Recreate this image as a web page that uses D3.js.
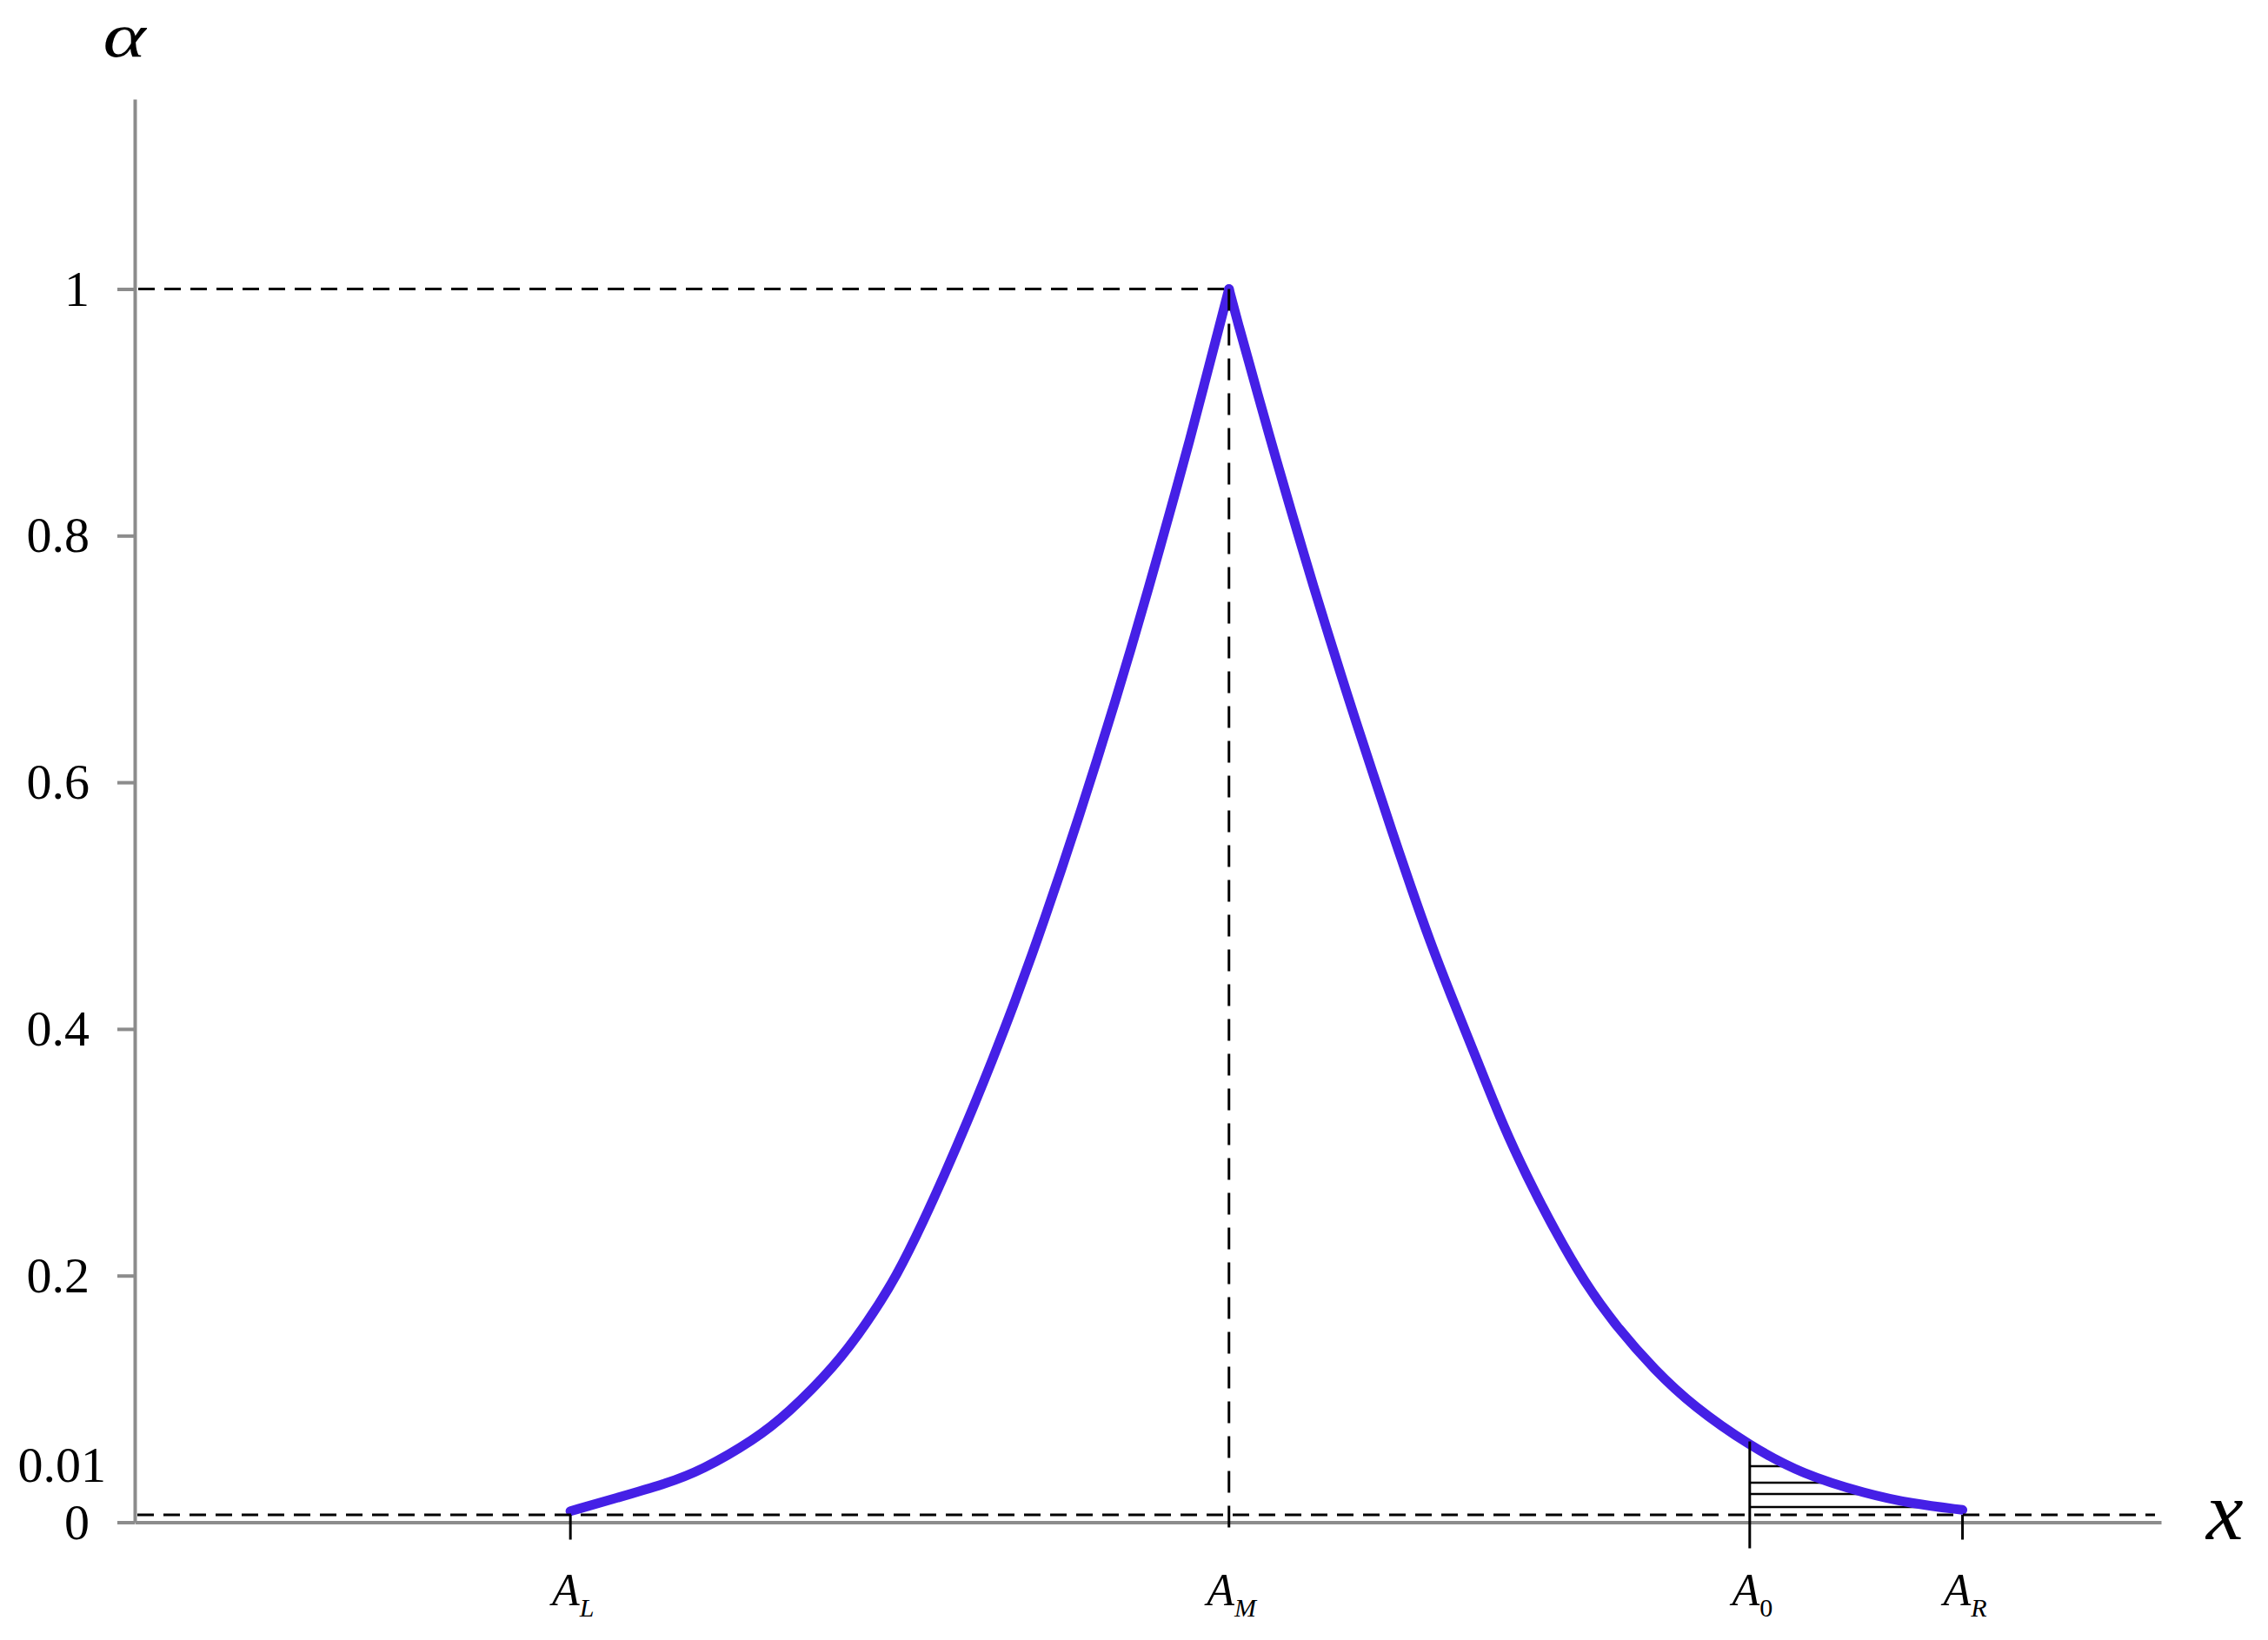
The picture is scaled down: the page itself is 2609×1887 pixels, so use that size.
<!DOCTYPE html>
<html>
<head>
<meta charset="utf-8">
<script src="https://cdn.jsdelivr.net/npm/d3@7"></script>
<style>
  body { margin: 0; background: #fff; }
  svg { display: block; }
</style>
</head>
<body>
<script>
// membership curve
var curveX = [21.5, 23.85, 26.17, 27.97, 30.59, 32.22, 34.53, 36.16, 37.62, 38.95,
              39.94, 41.10, 42.38, 43.37, 44.36, 44.83, 45.77, 46.63, 47.45, 48.43,
              49.25, 50.06, 50.71, 51.39, 52.04, 52.77, 53.50, 54.0,
              54.48, 55.00, 55.38, 55.98, 56.54, 57.14, 57.61, 58.17, 58.77, 59.59,
              60.23, 61.13, 62.03, 63.02, 63.92, 64.86, 66.41, 67.52, 68.68, 70.06,
              71.56, 73.10, 75.03, 76.92, 79.7, 82.28, 85.46, 87.73, 90.2];
var curveAlpha = [0.009, 0.020, 0.031, 0.042, 0.067, 0.088, 0.126, 0.162, 0.200, 0.245,
                  0.281, 0.325, 0.377, 0.419, 0.464, 0.486, 0.531, 0.574, 0.616, 0.668,
                  0.713, 0.759, 0.797, 0.837, 0.876, 0.922, 0.968, 1.0,
                  0.970, 0.940, 0.917, 0.882, 0.850, 0.816, 0.790, 0.759, 0.727, 0.684,
                  0.651, 0.606, 0.561, 0.513, 0.471, 0.431, 0.368, 0.322, 0.281, 0.237,
                  0.194, 0.159, 0.123, 0.094, 0.062, 0.039, 0.023, 0.015, 0.010];

var yTicks = [0, 0.2, 0.4, 0.6, 0.8, 1];
var markNames = ["L", "M", "0", "R"];
var markX = [21.5, 54, 79.7, 90.2];
var hatchLevels = [0.0455, 0.0321, 0.0229, 0.0123];
var cutLevel = 0.006;
var smallLabel = "0.01";
var smallLabelAt = 0.0455;

var W = 2609, H = 1887;
var gray = "#8c8c8c", blue = "#4520e6";
var serif = "'Liberation Serif', 'Times New Roman', serif";

var svg = d3.select("body").append("svg")
    .attr("width", W)
    .attr("height", H)
    .style("background", "#fff");

var x = d3.scaleLinear().domain([0, 100]).range([155, 2486]);
var y = d3.scaleLinear().domain([0, 1.154]).range([1751.5, 114]);

var data = curveX.map(function (v, i) { return {x: v, a: curveAlpha[i]}; });
var peak = curveAlpha.indexOf(d3.max(curveAlpha));
var branches = [data.slice(0, peak + 1), data.slice(peak)];

// x axis (plain line, no ticks)
var xAxis = svg.append("g")
    .attr("transform", "translate(0," + y(0) + ")")
    .call(d3.axisBottom(x).tickValues([]).tickSizeOuter(0));
xAxis.select(".domain").attr("stroke", gray).attr("stroke-width", 4);

// y axis
var yAxis = svg.append("g")
    .attr("transform", "translate(" + x(0) + ",0)")
    .call(d3.axisLeft(y).tickValues(yTicks).tickSize(20).tickSizeOuter(0)
          .tickPadding(32).tickFormat(function (d) { return String(d); }));
yAxis.attr("font-family", serif).attr("font-size", 58);
yAxis.select(".domain").attr("stroke", gray).attr("stroke-width", 4);
yAxis.selectAll(".tick line").attr("stroke", gray).attr("stroke-width", 4);
yAxis.selectAll(".tick text").attr("fill", "#000");

svg.append("text")
    .attr("x", 122)
    .attr("y", y(smallLabelAt))
    .attr("dy", "0.32em")
    .attr("text-anchor", "end")
    .style("font-family", serif)
    .style("font-size", "58px")
    .text(smallLabel);

var line = d3.line()
    .curve(d3.curveBasis)
    .x(function (d) { return x(d.x); })
    .y(function (d) { return y(d.a); });

// hatching between A_0 and A_R under the curve
var tail = data.filter(function (d) { return d.x >= markX[2] && d.x <= markX[3]; });
svg.append("clipPath").attr("id", "tail")
  .append("path")
    .attr("d", d3.area().curve(d3.curveMonotoneX)
                 .x(function (d) { return x(d.x); })
                 .y0(y(0)).y1(function (d) { return y(d.a); })(tail));

svg.append("g").attr("clip-path", "url(#tail)")
  .selectAll("line").data(hatchLevels).enter().append("line")
    .attr("x1", x(markX[2]))
    .attr("x2", x(markX[3]))
    .attr("y1", function (d) { return y(d); })
    .attr("y2", function (d) { return y(d); })
    .attr("stroke", "#000")
    .attr("stroke-width", 2.5);

// the curve, drawn as two branches so the peak stays sharp
svg.selectAll(".branch").data(branches).enter().append("path")
    .attr("class", "branch")
    .attr("fill", "none")
    .attr("stroke", blue)
    .attr("stroke-width", 11)
    .attr("stroke-linejoin", "round")
    .attr("stroke-linecap", "round")
    .attr("d", line);

// dashed guides
svg.append("line")
    .attr("x1", x(0) + 4).attr("x2", x(markX[1]))
    .attr("y1", y(1)).attr("y2", y(1))
    .attr("stroke", "#000").attr("stroke-width", 3)
    .attr("stroke-dasharray", "19,11");
svg.append("line")
    .attr("x1", x(markX[1])).attr("x2", x(markX[1]))
    .attr("y1", y(1)).attr("y2", y(0) + 21)
    .attr("stroke", "#000").attr("stroke-width", 3)
    .attr("stroke-dasharray", "25,15");
svg.append("line")
    .attr("x1", x(0) + 3).attr("x2", x(100) - 7)
    .attr("y1", y(cutLevel)).attr("y2", y(cutLevel))
    .attr("stroke", "#000").attr("stroke-width", 3)
    .attr("stroke-dasharray", "19,11");

// marks on the x axis
var a0 = curveAlpha[curveX.indexOf(markX[2])];
[0, 2, 3].forEach(function (i) {
  var top = i === 2 ? y(a0) - 5 : y(cutLevel);
  var bottom = i === 2 ? y(0) + 30 : y(0) + 20;
  svg.append("line")
      .attr("x1", x(markX[i])).attr("x2", x(markX[i]))
      .attr("y1", top).attr("y2", bottom)
      .attr("stroke", "#000").attr("stroke-width", 3);
});

var labels = svg.selectAll(".mark-label").data(markNames).enter().append("text")
    .attr("class", "mark-label")
    .attr("x", function (d, i) { return x(markX[i]) + 3; })
    .attr("y", 1847)
    .attr("text-anchor", "middle")
    .style("font-family", serif)
    .style("font-style", "italic")
    .style("font-size", "52px");
labels.append("tspan").text("A");
labels.append("tspan")
    .attr("dy", 13)
    .style("font-size", "30px")
    .style("font-style", function (d) { return d === "0" ? "normal" : "italic"; })
    .text(function (d) { return d; });

// axis names
svg.append("text")
    .attr("transform", "translate(143,65) scale(1.3,1)")
    .attr("text-anchor", "middle")
    .style("font-family", serif)
    .style("font-style", "italic")
    .style("font-size", "72px")
    .text("α");
svg.append("text")
    .attr("x", 2538).attr("y", 1771)
    .style("font-family", serif)
    .style("font-style", "italic")
    .style("font-size", "96px")
    .text("x");
</script>
</body>
</html>
